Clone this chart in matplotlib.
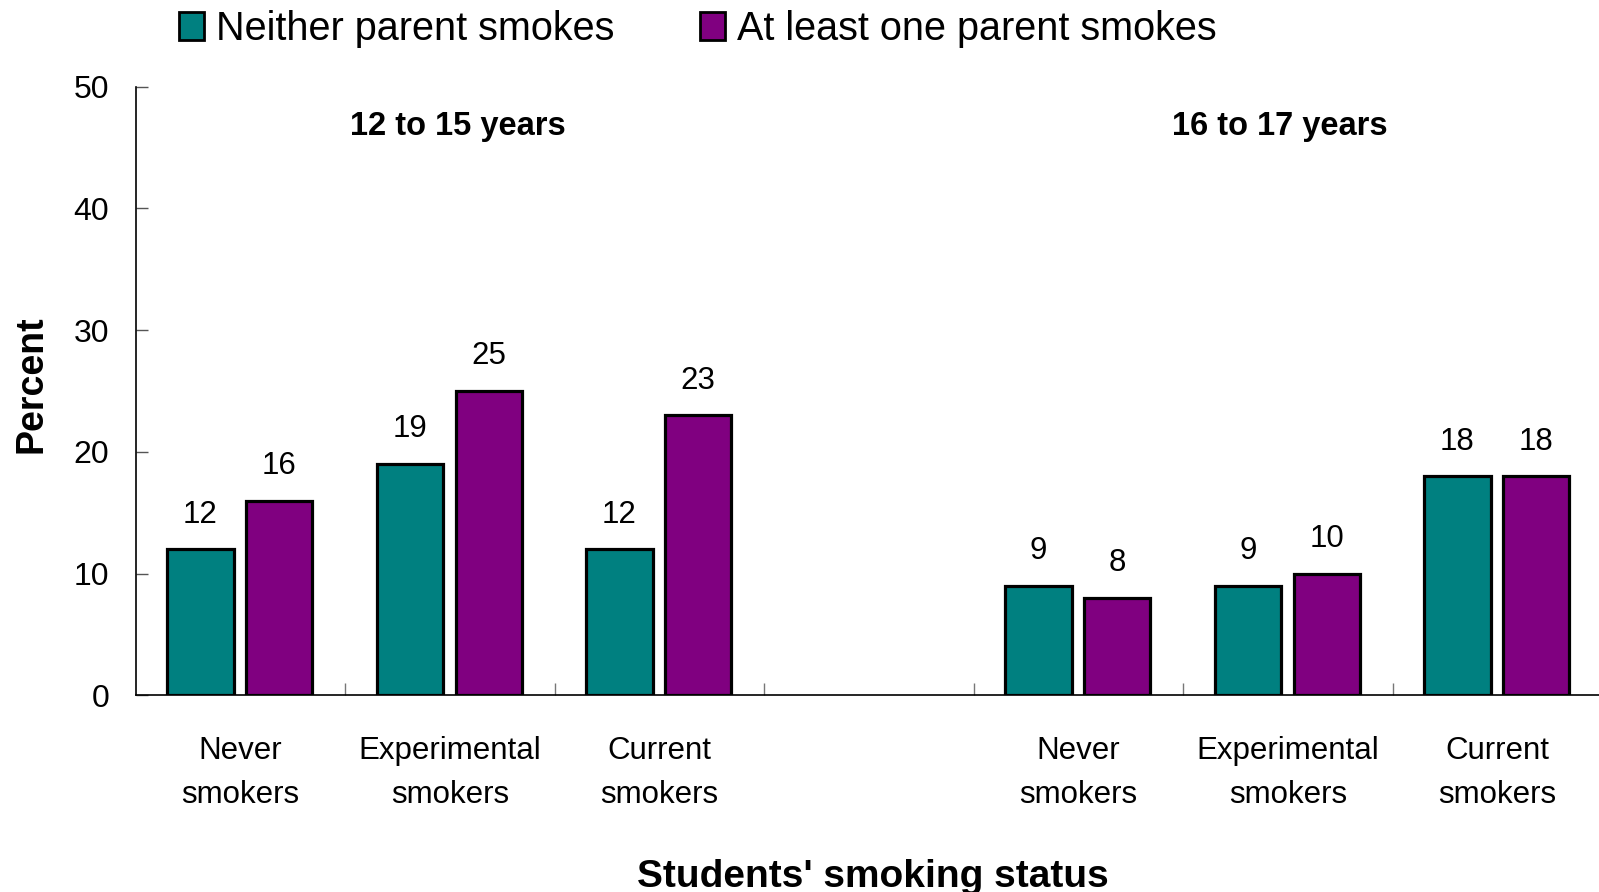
import numpy as np
import matplotlib
matplotlib.use("Agg")
import matplotlib.pyplot as plt
from matplotlib.patches import Patch

plt.rcParams["font.family"] = ["Liberation Sans", "DejaVu Sans"]

TEAL = "#008080"
PURPLE = "#800080"

# one empty slot separates the two age groups
categories = [
    "Never\nsmokers", "Experimental\nsmokers", "Current\nsmokers", "",
    "Never\nsmokers", "Experimental\nsmokers", "Current\nsmokers",
]
neither_parent = [12, 19, 12, np.nan, 9, 9, 18]
one_parent = [16, 25, 23, np.nan, 8, 10, 18]
series_names = ["Neither parent smokes", "At least one parent smokes"]
age_groups = ["12 to 15 years", "16 to 17 years"]

fig = plt.figure(figsize=(15.99, 8.92), dpi=100)
ax = fig.add_axes([0.0848, 0.2203, 1.0019 - 0.0848, 0.9028 - 0.2203])

x = np.arange(len(categories))
width = 0.316
for offset, values, color in [(-0.19, neither_parent, TEAL), (0.186, one_parent, PURPLE)]:
    ax.bar(x + offset, values, width, color=color, edgecolor="black", linewidth=2.3, zorder=3)
    for xi, v in zip(x, values):
        if np.isnan(v):
            continue
        ax.annotate(f"{v:g}", (xi + offset, v), xytext=(0, 25), textcoords="offset points",
                    ha="center", va="center", fontsize=22.5)

ax.set_xlim(-0.5, len(categories) - 0.5)
ax.set_ylim(0, 50)
ax.set_yticks(range(0, 51, 10))
ax.tick_params(axis="y", direction="in", length=8.5, width=1, color="#555555",
               labelsize=23, pad=19)

# labels sit at the slot centres, tick marks at the slot borders
ax.set_xticks(x)
ax.set_xticklabels(categories, fontsize=22.5, linespacing=1.6)
ax.tick_params(axis="x", which="major", length=0, pad=29)
ax.set_xticks(np.arange(0.5, len(categories) - 1, 1.0), minor=True)
ax.tick_params(axis="x", which="minor", direction="in", length=8.5, width=1, color="#777777")

for side in ["top", "right"]:
    ax.spines[side].set_visible(False)
for side in ["left", "bottom"]:
    ax.spines[side].set_linewidth(1.2)

ax.text(1.04, 46.7, age_groups[0], ha="center", va="center", fontsize=23.5, fontweight="bold")
ax.text(4.96, 46.7, age_groups[1], ha="center", va="center", fontsize=23.5, fontweight="bold")

fig.text(31 / 1599, 1 - 384 / 892, "Percent", rotation=90, ha="center", va="center",
         fontsize=27, fontweight="bold")
fig.text(873 / 1599, 1 - 877 / 892, "Students' smoking status", ha="center", va="center",
         fontsize=28, fontweight="bold")

handles = [Patch(facecolor=TEAL, edgecolor="black", linewidth=2),
           Patch(facecolor=PURPLE, edgecolor="black", linewidth=2)]
fig.legend(handles, series_names, loc="center left", bbox_to_anchor=(0.112, 0.968),
           ncol=2, frameon=False, fontsize=28.5, handlelength=0.64, handleheight=0.7,
           handletextpad=0.3, columnspacing=2.15, borderpad=0, borderaxespad=0)

fig.savefig("out.png", dpi=100)
